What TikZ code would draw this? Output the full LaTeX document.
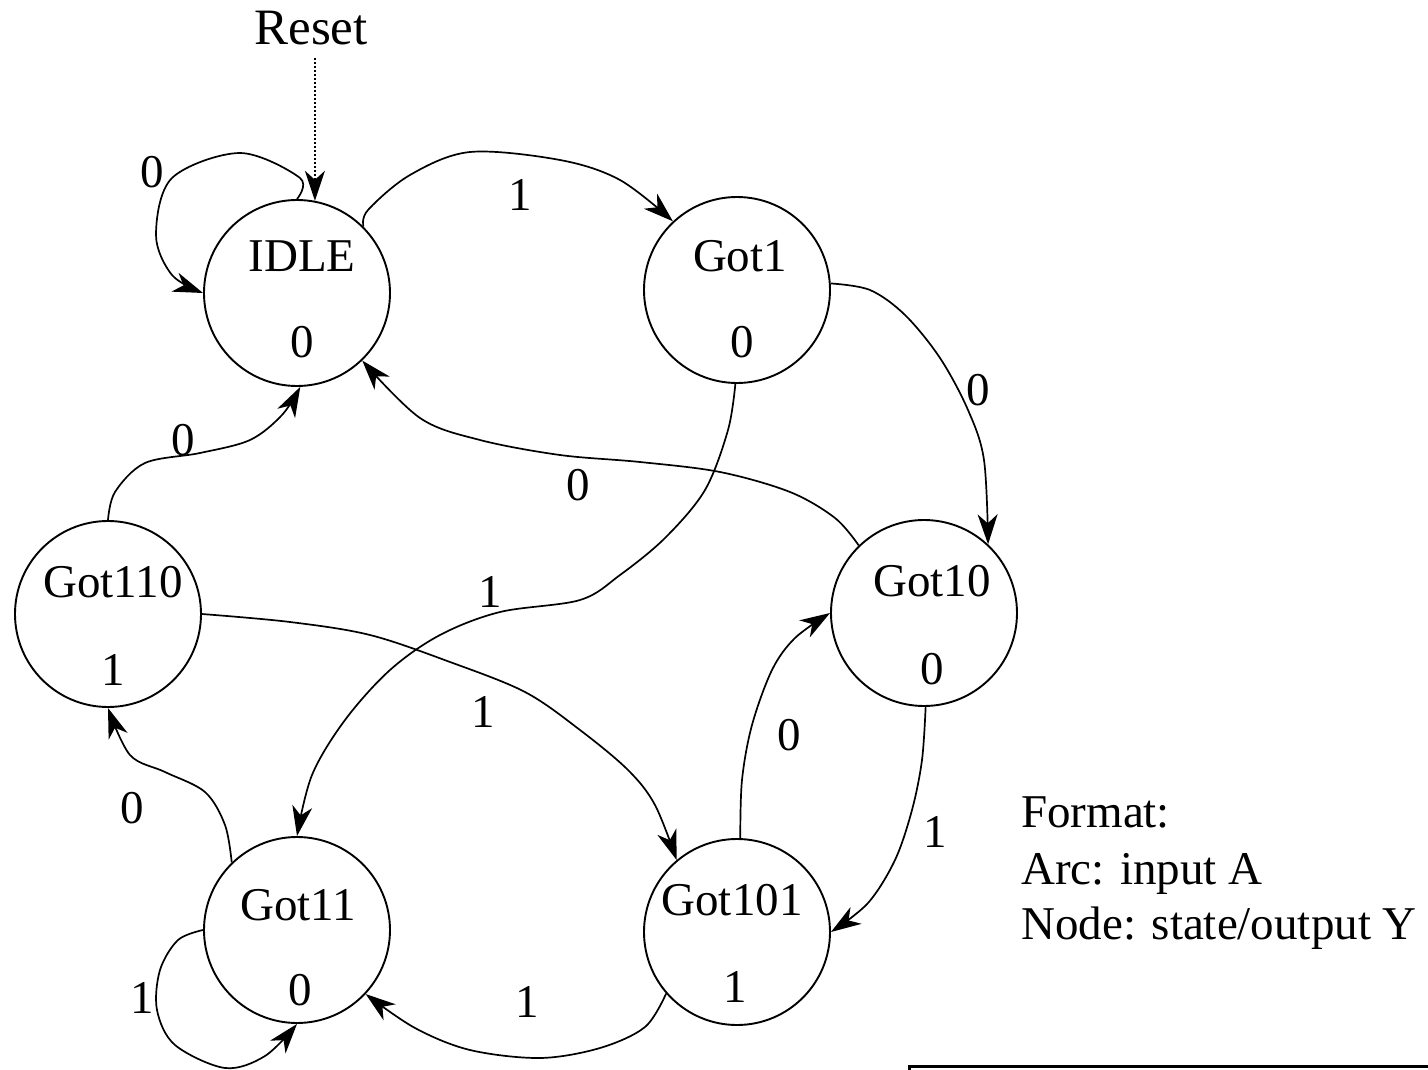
\documentclass[tikz,border=0pt]{standalone}
\usepackage{fontspec}
\setmainfont{Liberation Serif}
\usetikzlibrary{arrows.meta}
\begin{document}
\begin{tikzpicture}[x=1pt,y=-1pt,
  font=\fontsize{47}{56}\selectfont,
  state/.style={draw,circle,line width=1.9pt,minimum size=186pt,inner sep=0pt},
  txt/.style={anchor=base,inner sep=0pt},
  lbl/.style={inner sep=0pt},
  tip/.style={-{Stealth[length=30pt,width=20pt,inset=9pt]}},
  edge/.style={line width=1.7pt,tip},
  sm/.style={smooth,tension=0.55}]
\useasboundingbox (0,0) rectangle (1428,1070);
% states
\node[state] (IDLE)   at (297,293) {};
\node[state] (Got1)   at (737,290) {};
\node[state] (Got10)  at (924,613) {};
\node[state] (Got110) at (108,614) {};
\node[state] (Got11)  at (297,930) {};
\node[state] (Got101) at (737,932) {};
% state texts
\node[txt] at (302,271) {IDLE};   \node[txt] at (302,357) {0};
\node[txt] at (740,271) {Got1};   \node[txt] at (742,357) {0};
\node[txt] at (932,596) {Got10};  \node[txt] at (932,684) {0};
\node[txt] at (113,597) {Got110}; \node[txt] at (113,685) {1};
\node[txt] at (298,920) {Got11};  \node[txt] at (300,1005) {0};
\node[txt] at (732,915) {Got101}; \node[txt] at (735,1002) {1};
% reset
\node[txt,font=\fontsize{51}{60}\selectfont] (reset) at (311,45) {Reset};
\draw[line width=1.6pt,dash pattern=on 2pt off 2pt,shorten <=12pt,tip]
  (reset.south -| IDLE.79) -- (IDLE.79);
% edges
\draw[edge] plot[sm] coordinates {(IDLE.90) (300,178) (240,153) (172,178) (156,235) (172,275) (IDLE.180)};
\draw[edge] plot[sm] coordinates {(IDLE.45) (368,210) (410,175) (470,152) (560,160) (620,180) (Got1.133)};
\draw[edge] plot[sm] coordinates {(Got1.4) (870,290) (905,315) (940,358) (968,410) (984,460) (Got10.47)};
\draw[edge] plot[sm] coordinates {(Got10.134) (835,518) (790,492) (720,472) (640,462) (560,455) (480,440) (420,418) (IDLE.-46)};
\draw[edge] plot[sm] coordinates {(Got1.-91) (728,430) (705,490) (665,538) (620,575) (580,600) (500,612) (440,635) (390,670) (345,720) (312,775) (Got11.90)};
\draw[edge] plot[sm] coordinates {(Got110.90) (115,492) (145,463) (200,453) (250,440) (282,415) (IDLE.-88)};
\draw[edge] plot[sm] coordinates {(Got110.0) (290,622) (370,635) (450,662) (525,692) (580,730) (628,770) (655,805) (Got101.130)};
\draw[edge] plot[sm] coordinates {(Got11.134) (225,825) (205,792) (165,772) (130,755) (Got110.-90)};
\draw[edge] plot[sm] coordinates {(Got10.-89) (922,760) (912,810) (895,860) (868,903) (Got101.0)};
\draw[edge] plot[sm] coordinates {(Got101.88) (742,780) (752,725) (772,670) (795,638) (Got10.180)};
\draw[edge] plot[sm] coordinates {(Got101.-139) (645,1027) (600,1048) (540,1058) (470,1050) (415,1028) (Got11.-43)};
\draw[edge] plot[sm] coordinates {(Got11.180) (178,940) (160,970) (157,1010) (175,1045) (225,1068) (265,1056) (Got11.-90)};
% edge labels
\node[lbl] at (152,172) {0};
\node[lbl] at (520,195) {1};
\node[lbl] at (978,390) {0};
\node[lbl] at (578,485) {0};
\node[lbl] at (490,592) {1};
\node[lbl] at (183,440) {0};
\node[lbl] at (483,712) {1};
\node[lbl] at (132,808) {0};
\node[lbl] at (935,832) {1};
\node[lbl] at (789,735) {0};
\node[lbl] at (527,1002) {1};
\node[lbl] at (142,998) {1};
% format legend
\node[anchor=base west,inner sep=0pt] (f1) at (1021,827) {Format:};
\node[anchor=base west,inner sep=0pt] (f2) at (1021,884) {Arc: input A};
\node[anchor=base west,inner sep=0pt] (f3) at (1021,939) {Node: state/output Y};
% box edge
\draw[line width=3pt] (909,1080) -- (909,1066) -- (1440,1066);
\end{tikzpicture}
\end{document}
